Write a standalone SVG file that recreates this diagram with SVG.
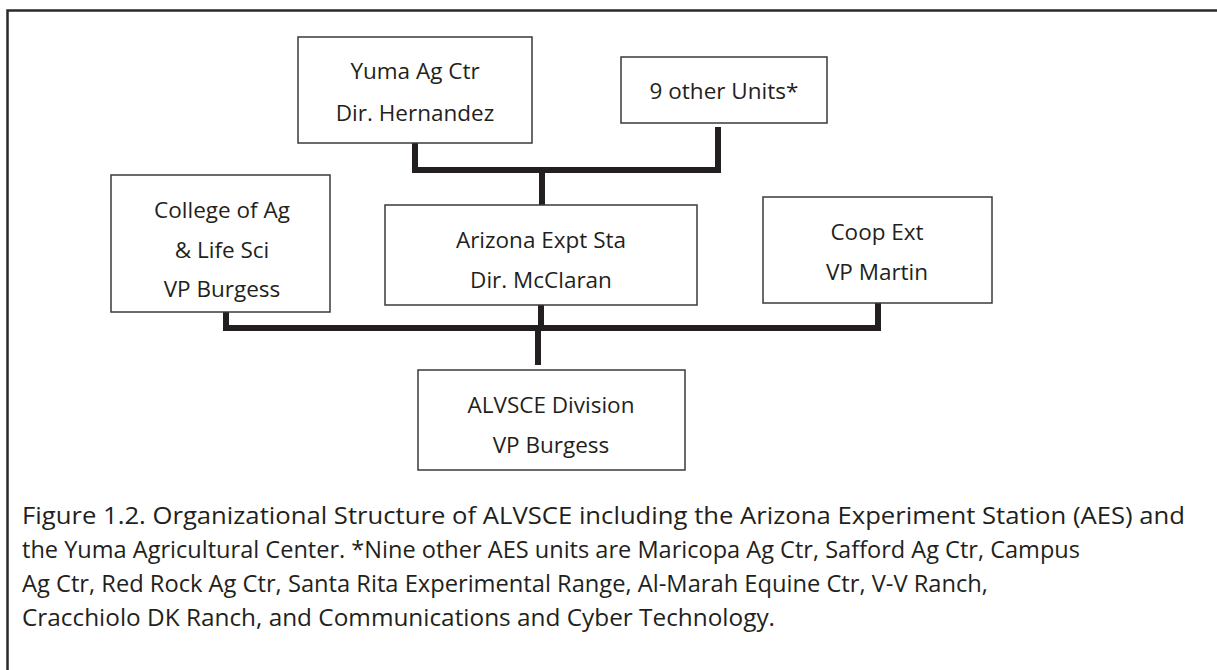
<svg xmlns="http://www.w3.org/2000/svg" width="1217" height="670" viewBox="0 0 1217 670">
<style>
.box{fill:#fff;stroke:#3a3a3a;stroke-width:1.5}
.t{font-family:"Open Sans","Liberation Sans",sans-serif;font-size:22.5px;fill:#231f20;text-anchor:middle}
.cap{font-family:"Open Sans","Liberation Sans",sans-serif;font-size:23.5px;fill:#231f20}
.c{fill:none;stroke:#231f20;stroke-width:6}
</style>
<rect width="1217" height="670" fill="#fff"/>
<path d="M7.5,670 V10.5 H1217" fill="none" stroke="#2a2a2a" stroke-width="2.5"/>
<g id="connectors">
<path class="c" d="M415,143 V170 H718 V127"/>
<path class="c" d="M542,170 V205"/>
<path class="c" d="M226,312 V328 H878 V303"/>
<path class="c" d="M541,305 V328"/>
<path class="c" d="M538,328 V365"/>
</g>
<g id="yuma">
<rect class="box" x="298" y="37" width="234" height="106"/>
<text class="t" x="415" y="79">Yuma Ag Ctr</text>
<text class="t" x="415" y="121">Dir. Hernandez</text>
</g>
<g id="other">
<rect class="box" x="621" y="57" width="206" height="66"/>
<text class="t" x="724" y="99">9 other Units*</text>
</g>
<g id="college">
<rect class="box" x="111" y="175" width="219" height="137"/>
<text class="t" x="222" y="218">College of Ag</text>
<text class="t" x="222" y="258">&amp; Life Sci</text>
<text class="t" x="222" y="297">VP Burgess</text>
</g>
<g id="aes">
<rect class="box" x="385" y="205" width="312" height="100"/>
<text class="t" x="541" y="248">Arizona Expt Sta</text>
<text class="t" x="541" y="288">Dir. McClaran</text>
</g>
<g id="coop">
<rect class="box" x="763" y="197" width="229" height="106"/>
<text class="t" x="877" y="240">Coop Ext</text>
<text class="t" x="877" y="280">VP Martin</text>
</g>
<g id="alvsce">
<rect class="box" x="418" y="370" width="267" height="100"/>
<text class="t" x="551" y="413">ALVSCE Division</text>
<text class="t" x="551" y="453">VP Burgess</text>
</g>
<g id="caption">
<text class="cap" x="22" y="524" textLength="1163" lengthAdjust="spacingAndGlyphs">Figure 1.2. Organizational Structure of ALVSCE including the Arizona Experiment Station (AES) and</text>
<text class="cap" x="22" y="558" textLength="1058" lengthAdjust="spacingAndGlyphs">the Yuma Agricultural Center. *Nine other AES units are Maricopa Ag Ctr, Safford Ag Ctr, Campus</text>
<text class="cap" x="22" y="592" textLength="966" lengthAdjust="spacingAndGlyphs">Ag Ctr, Red Rock Ag Ctr, Santa Rita Experimental Range, Al-Marah Equine Ctr, V-V Ranch,</text>
<text class="cap" x="22" y="626" textLength="753" lengthAdjust="spacingAndGlyphs">Cracchiolo DK Ranch, and Communications and Cyber Technology.</text>
</g>
</svg>
